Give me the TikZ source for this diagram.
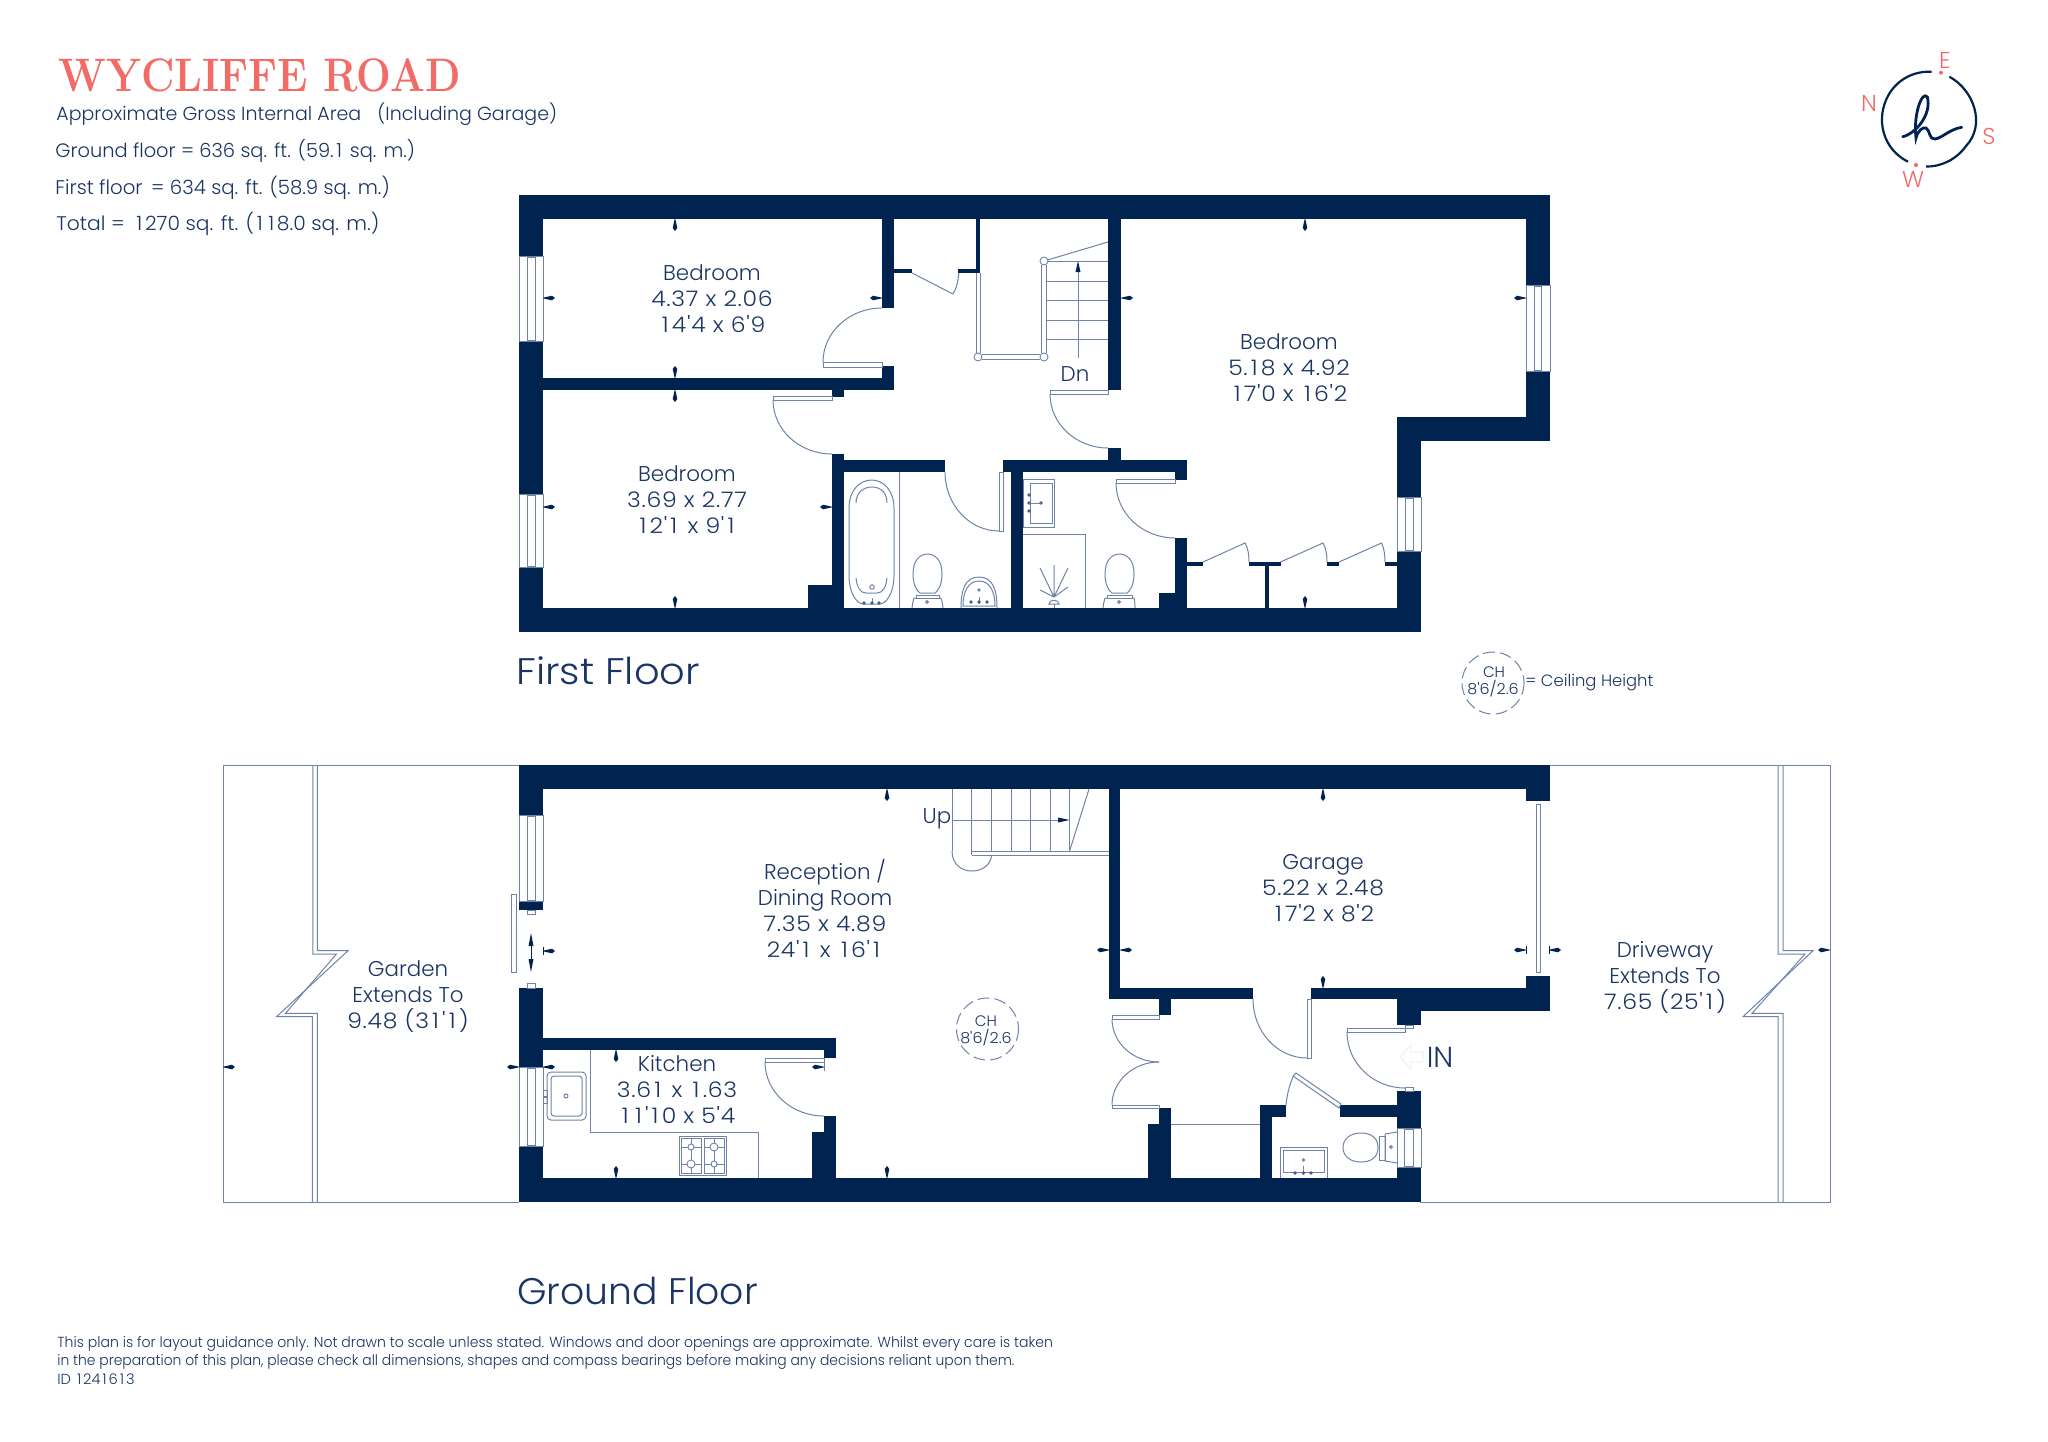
\documentclass[tikz,border=0pt]{standalone}
\usepackage{fontspec}
\usepackage{graphicx}
\usetikzlibrary{calc}
\newfontfamily\pop{Poppins Light}
\definecolor{navy}{HTML}{00234F}
\definecolor{txtc}{HTML}{1A3563}
\definecolor{thinc}{HTML}{6F83A8}
\definecolor{coral}{HTML}{F26B66}
\tikzset{
  wallfill/.style={fill=navy,draw=none},
  thinl/.style={draw=thinc,line width=0.5pt},
  thinw/.style={draw=thinc,line width=0.5pt,fill=white},
  fix/.style={draw=thinc,line width=0.45pt,fill=white},
  tx/.style={text=txtc,font=\pop\fontsize{10.7}{13}\selectfont,align=center,inner sep=0pt},
  hd/.style={text=txtc,font=\pop\fontsize{9.85}{12}\selectfont,anchor=west,inner sep=0pt},
  ftr/.style={text=txtc,font=\pop\fontsize{7.3}{9}\selectfont,anchor=west,inner sep=0pt},
  cp/.style={text=coral,font=\pop\fontsize{11.5}{13}\selectfont,inner sep=0pt},
  chl/.style={draw=thinc,line width=0.5pt,dash pattern=on 6pt off 2.5pt},
  cht/.style={text=txtc,font=\pop\fontsize{7.6}{9}\selectfont,inner sep=0pt}
}
% wide digit one and stretched number lines
\newcommand{\oo}{\makebox[0.56em][c]{1}}
\newcommand{\nf}[1]{\scalebox{1.10}[1]{\addfontfeature{LetterSpace=3}#1}}
\newcommand{\wl}[4]{\fill[wallfill] (#1,#2) rectangle (#3,#4);}
\newcommand{\vwin}[6]{\draw[thinw] (#1,#3) rectangle (#2,#4);\draw[thinl] (#5,#3+1) rectangle (#6,#4-1);}
\newcommand{\qarc}[3]{\draw[thinl] (#1) .. controls ($(#1)!0.552!(#3)$) and ($(#2)!0.552!(#3)$) .. (#2);}
\newcommand{\tick}[3]{\fill[navy,shift={(#1,#2)},rotate=#3] (0,.3)--(9,2.3)--(12,0)--(9,-2.3)--(0,-.3)--cycle;}
\newcommand{\tL}[2]{\tick{#1}{#2}{0}}
\newcommand{\tR}[2]{\tick{#1}{#2}{180}}
\newcommand{\tU}[2]{\tick{#1}{#2}{-90}}
\newcommand{\tD}[2]{\tick{#1}{#2}{90}}
\newcommand{\dt}[2]{\fill[thinc!60!navy] (#1,#2) circle (1.8);}
\begin{document}
\begin{tikzpicture}[x=0.5pt,y=-0.5pt]
\useasboundingbox (0,0) rectangle (2048,1441);
\fill[white] (0,0) rectangle (2048,1441);

% ---------- header ----------
\node[anchor=west,inner sep=0pt,text=coral,font=\rmfamily\bfseries\fontsize{23.5}{26}\selectfont\addfontfeature{FakeBold=0.8}] (title) at (58,75) {\scalebox{0.875}[1]{WYCLIFFE ROAD}};
\node[hd,font=\pop\fontsize{9.5}{12}\selectfont] (h1) at (56,114) {Approximate Gross Internal Area\hspace{0.85em}(Including Garage)};
\node[hd,font=\pop\fontsize{9.7}{12}\selectfont] (h2) at (55,151) {Ground floor = 636 sq. ft. (59.\oo\ sq. m.)};
\node[hd] (h3) at (55,188) {First floor\, = 634 sq. ft. (58.9 sq. m.)};
\node[hd] (h4) at (56,224) {\scalebox{1.03}[1]{Total =\, \oo270 sq. ft. (\oo\oo8.0 sq. m.)}};

% ---------- compass ----------
\draw[navy,line width=1.1pt] (1949.3,76.7) .. controls (1974,90) and (1986,125) .. (1966,146) .. controls (1956,160) and (1940,167) .. (1926,166.5);
\draw[navy,line width=1.1pt] (1908,161.7) .. controls (1884,150) and (1874,120) .. (1889,94) .. controls (1899,78) and (1915,71) .. (1931.7,71.7);
\draw[navy,line width=1.4pt,line cap=round] (1902.7,136.7) .. controls (1915,134) and (1932,115) .. (1927.3,97) .. controls (1922,90) and (1913,115) .. (1916,138) .. controls (1918,130) and (1923,127) .. (1926,128) .. controls (1930,130) and (1929,140) .. (1935,139) .. controls (1942,138) and (1950,129) .. (1961.7,127.3);
\fill[coral] (1941,72.7) circle (2);
\fill[coral] (1916,165) circle (2);
\node[cp] (cE) at (1945,60) {E};
\node[cp] (cN) at (1869,103) {N};
\node[cp] (cS) at (1989,136) {S};
\node[cp] (cW) at (1913,179) {W};

% ========== FIRST FLOOR ==========
\wl{519}{195}{1550}{219}
\wl{519}{195}{543}{632}
\wl{519}{608}{1421}{632}
\wl{1526}{195}{1550}{441}
\wl{1397}{417}{1550}{441}
\wl{1397}{417}{1421}{632}
% interior walls
\wl{882}{219}{894}{308}
\wl{882}{366}{894}{390}
\wl{543}{378}{894}{390}
\wl{832}{390}{844}{397}
\wl{832}{454}{844}{608}
\wl{832}{460}{945}{472}
\wl{1003}{460}{1187}{472}
\wl{1175}{472}{1187}{480}
\wl{1011}{472}{1023}{608}
\wl{808}{585}{844}{608}
\wl{1108}{219}{1121}{390}
\wl{1108}{448}{1121}{460}
\wl{1175}{538}{1187}{608}
\wl{1159}{593}{1175}{608}
\wl{1265}{562}{1269}{608}
\wl{1187}{562}{1203}{566}
\wl{1249}{562}{1280.5}{566}
\wl{1327}{562}{1339}{566}
\wl{1385}{562}{1397}{566}
\wl{976}{219}{980}{273}
\wl{894}{269}{912}{273}
\wl{958}{269}{976}{273}
% windows
\vwin{519}{543}{256}{341}{527}{535}
\vwin{519}{543}{494}{567}{527}{535}
\vwin{1526}{1550}{285}{371}{1534}{1541.5}
\vwin{1397}{1421}{497}{551}{1405}{1413}
% doors
\draw[thinw] (823,362) rectangle (882,367);
\qarc{823,362}{882,308}{823,308}
\draw[thinw] (773,396) rectangle (832,400);
\qarc{773,400}{832,454}{773,454}
\draw[thinw] (999,472) rectangle (1003,531);
\qarc{945,472}{999,531}{945,531}
\draw[thinw] (1050,390) rectangle (1108,394);
\qarc{1050,394}{1108,448}{1050,448}
\draw[thinw] (1116,479) rectangle (1175,483);
\qarc{1116,483}{1175,538}{1116,538}
% cupboard door
\draw[thinl] (912,273) -- (953,294);
\draw[thinl] (953,294) .. controls (957,288) and (958,280) .. (959,273);
% wardrobes
\draw[thinl] (1203,562) -- (1245,543) .. controls (1248,548) and (1249,555) .. (1249,562);
\draw[thinl] (1280.5,562) -- (1323,543) .. controls (1326,548) and (1327,555) .. (1327,562);
\draw[thinl] (1339,562) -- (1381.5,543) .. controls (1384,548) and (1385,555) .. (1385,562);
% stairs
\draw[thinl] (976,273) -- (976,355) (980,273) -- (980,353);
\draw[thinl] (982,354.5) -- (1040,354.5) (982,359) -- (1040,359);
\draw[thinl] (1041.5,265) -- (1041.5,353) (1046.5,265) -- (1046.5,353);
\foreach \y in {261,281,300,320,339} {\draw[thinl] (1047,\y) -- (1108,\y);}
\draw[thinl] (1044,261) -- (1108,242);
\draw[fix] (978,357) circle (4);
\draw[fix] (1044,357) circle (4);
\draw[fix] (1044,261) circle (4);
\draw[thinl] (1078,358) -- (1078,268);
\fill[navy] (1078,261) -- (1080.5,272) -- (1075.5,272) -- cycle;
% bath
\draw[thinl] (899,472) -- (899,608);
\draw[thinl] (849,508) .. controls (849,490) and (860,480) .. (871.5,480) .. controls (883,480) and (894,490) .. (894,508) -- (894,575) .. controls (894,595) and (885,604) .. (880,604) -- (863,604) .. controls (858,604) and (849,595) .. (849,575) -- cycle;
\draw[thinl] (856,503) .. controls (856,493) and (863,487) .. (872,487) .. controls (881,487) and (887,493) .. (887,503);
\draw[thinl] (856,578) .. controls (857,587) and (860,593) .. (866,593) -- (877,593) .. controls (883,593) and (886,587) .. (887,578);
\draw[thinl] (872,587) circle (2.2);
\draw[thinl] (872,598) -- (872,604);
\dt{864}{603}\dt{872}{603}\dt{879}{603}
% bathroom toilet
\draw[thinl] (913,574) .. controls (913,560) and (920,554) .. (927.5,554) .. controls (935,554) and (942,560) .. (942,574) .. controls (942,585) and (938,591) .. (935,593) -- (920,593) .. controls (917,591) and (913,585) .. (913,574) -- cycle;
\draw[thinl] (916,595) rectangle (939,598);
\draw[thinl] (914,598) .. controls (913,602) and (912,605) .. (912,608) (941,598) .. controls (942,602) and (943,605) .. (943,608) (916,598) -- (914,598) (939,598) -- (941,598);
\draw[thinl] (927,602) circle (1.4);
% bathroom sink
\draw[thinl] (961,608) .. controls (961,590) and (965,577) .. (979,577) .. controls (993,577) and (997,590) .. (997,608);
\draw[thinl] (963,606) .. controls (963,592) and (968,581) .. (979,581) .. controls (990,581) and (995,592) .. (995,606) -- cycle;
\draw[thinl] (979,590) circle (1.2);
\draw[thinl] (979,597) -- (979,604);
\dt{971}{602}\dt{979}{602}\dt{987}{602}
% ensuite sink
\draw[thinl] (1023,479) rectangle (1054,527);
\draw[thinl] (1030,483) rectangle (1052,523);
\dt{1029}{495}\dt{1029}{503}\dt{1029}{511}\dt{1041}{503}
\draw[thinl] (1029,503) -- (1041,503);
% shower
\draw[thinl] (1023,534) -- (1085,534) -- (1085,608);
\draw[thinl] (1054,597) -- (1040,568) (1054,597) -- (1054,565) (1054,597) -- (1068,568) (1054,597) -- (1040,590) (1054,597) -- (1068,587);
\draw[thinl] (1049,604) .. controls (1049,599) and (1059,599) .. (1059,604) -- cycle;
\draw[thinl] (1054,604) -- (1054,608);
% ensuite toilet
\draw[thinl] (1105,574) .. controls (1105,560) and (1112,554) .. (1119.5,554) .. controls (1127,554) and (1134,560) .. (1134,574) .. controls (1134,585) and (1130,591) .. (1127,593) -- (1112,593) .. controls (1109,591) and (1105,585) .. (1105,574) -- cycle;
\draw[thinl] (1107,595) rectangle (1132,598);
\draw[thinl] (1105,598) .. controls (1104,602) and (1103,605) .. (1103,608) (1134,598) .. controls (1135,602) and (1135,605) .. (1135,608) (1107,598) -- (1105,598) (1132,598) -- (1134,598);
\draw[thinl] (1119,602) circle (1.4);
% ticks first floor
\tU{675}{219}\tL{543}{298}\tR{882}{298}\tD{675}{378}\tU{675}{390}\tL{543}{507}\tR{832}{507}\tD{675}{608}
\tU{1305}{219}\tL{1121}{298}\tR{1526}{298}\tD{1305}{608}
% labels first floor
\node[tx] (bed1) at (712,299) {Bedroom\\\nf{4.37 x 2.06}\\\nf{\oo4'4 x 6'9}};
\node[tx] (bed2) at (687,500) {Bedroom\\\nf{3.69 x 2.77}\\\nf{\oo2'\oo\ x 9'\oo}};
\node[tx] (bed3) at (1289,368) {Bedroom\\\nf{5.\oo8 x 4.92}\\\nf{\oo7'0 x \oo6'2}};
\node[tx] (dn) at (1075,374) {Dn};
\node[anchor=west,inner sep=0pt,text=txtc,font=\pop\fontsize{18.5}{22}\selectfont] (ff) at (516,671) {\scalebox{1.08}[1]{First Floor}};
% legend
\draw[chl] (1493,683) circle (31);
\node[cht] (ch1) at (1494,672) {CH};
\node[cht] (ch2) at (1493,689) {\scalebox{1.05}[1]{8'6/2.6}};
\node[anchor=west,inner sep=0pt,text=txtc,font=\pop\fontsize{8.2}{10}\selectfont] (ceil) at (1525,682.5) {= Ceiling Height};

% ========== GROUND FLOOR ==========
\draw[thinl] (519,765) -- (223,765) -- (223,1202) -- (519,1202);
\draw[thinl] (1550,765) -- (1830,765) -- (1830,1202) -- (1420,1202);
% garden zigzag
\draw[thinl] (312.9,765) -- (312.9,954) -- (336.5,954) -- (285.5,1013.3) -- (317.3,1013.3) -- (317.3,1202);
\draw[thinl] (317.3,765) -- (317.3,950.7) -- (348,950.7) -- (276.5,1016.7) -- (312.4,1016.7) -- (312.4,1202);
% driveway zigzag
\draw[thinl] (1778,765) -- (1778,954) -- (1805,954) -- (1752,1013.3) -- (1783,1013.3) -- (1783,1202);
\draw[thinl] (1783,765) -- (1783,950.7) -- (1813,950.7) -- (1743,1016.7) -- (1778,1016.7) -- (1778,1202);
% outer walls
\wl{519}{765}{1550}{789}
\wl{1526}{789}{1550}{801}
\wl{519}{1178}{1421}{1202}
\wl{519}{765}{543}{815}
\wl{519}{901}{543}{910}
\wl{519}{988}{543}{1067}
\wl{519}{1146}{543}{1202}
\draw[thinw] (527.5,910) rectangle (535,914);
\draw[thinw] (527.5,983) rectangle (535,988);
\vwin{519}{543}{815}{901}{527.5}{535}
\vwin{519}{543}{1067}{1146}{527.5}{535}
% kitchen walls
\wl{543}{1038}{836}{1050}
\wl{824}{1050}{836}{1058}
\wl{824}{1116}{836}{1178}
\wl{812}{1132}{836}{1178}
% garage walls
\wl{1109}{789}{1120}{999}
\wl{1109}{988}{1253}{999}
\wl{1311}{988}{1550}{999}
\wl{1526}{976}{1550}{1011}
\wl{1397}{999}{1550}{1011}
\wl{1397}{999}{1421}{1025}
\wl{1159}{999}{1171}{1015}
\wl{1159}{1108}{1171}{1178}
\wl{1147.5}{1124}{1171}{1178}
\wl{1260}{1105}{1272}{1178}
\wl{1260}{1105}{1286}{1117}
\wl{1340}{1105}{1397}{1117}
\wl{1397}{1091}{1421}{1128}
\wl{1397}{1167}{1421}{1178}
\vwin{1397}{1421}{1128}{1167}{1404}{1413}
% sliding doors
\draw[thinw] (511,894) rectangle (516,972);
\draw[thinw] (1536,804) rectangle (1540,972);
\draw[navy,line width=.4pt] (531,940) -- (531,965);
\fill[navy] (531,933) -- (533.5,946) -- (528.5,946) -- cycle;
\fill[navy] (531,972) -- (533.5,959) -- (528.5,959) -- cycle;
% doors
\draw[thinw] (765,1058) rectangle (824,1062);
\qarc{765,1062}{824,1116}{765,1116}
\draw[thinl] (824,1062) -- (824,1071);
\draw[thinw] (1112,1015) rectangle (1159,1019);
\qarc{1112,1019}{1159,1062}{1112,1062}
\draw[thinw] (1112,1105) rectangle (1159,1108);
\qarc{1112,1105}{1159,1062}{1112,1062}
\draw[thinw] (1307,999) rectangle (1311,1058);
\qarc{1253,999}{1307,1058}{1253,1058}
\draw[thinw] (1347,1028) rectangle (1405,1032);
\qarc{1347,1032}{1405,1088}{1347,1088}
\draw[thinl] (1405,1025) rectangle (1413,1028);
\draw[thinl] (1405,1087) rectangle (1413,1091);
\draw[thinw] (1293,1076) -- (1296,1073) -- (1341,1104) -- (1339,1108) -- cycle;
\draw[thinl] (1286,1105) .. controls (1287,1095) and (1289,1086) .. (1293,1077);
\draw[thinl] (1171,1124) -- (1260,1124);
% stairs
\foreach \x in {952,971.6,991.6,1011,1030,1050,1069.6} {\draw[thinl] (\x,789) -- (\x,851);}
\draw[thinl] (1089,789) -- (1069.6,851);
\draw[thinl] (971.6,851) -- (1109,851) (971.6,855) -- (1109,855);
\draw[thinl] (971.6,851) -- (971.6,855);
\draw[thinl] (952,851) .. controls (952,864) and (961,871) .. (972,871) .. controls (983,871) and (991,864) .. (991.6,855);
\draw[thinl] (952,820) -- (1060,820);
\fill[navy] (1069.6,820) -- (1058,817.5) -- (1058,822.5) -- cycle;
% kitchen
\draw[thinl] (590,1050) -- (590,1132) -- (758,1132) -- (758,1178);
\draw[thinl,rounded corners=2pt] (547,1072) rectangle (586,1120);
\draw[thinl,rounded corners=1.5pt] (551,1076) rectangle (582,1116);
\draw[thinl] (566,1096) circle (2);
\draw[thinl] (543,1090) rectangle (547,1096);
\draw[thinl] (543,1097) rectangle (547,1103);
\draw[thinl] (679,1136) rectangle (726,1175);
\draw[thinl] (681,1138) rectangle (701,1173);
\draw[thinl] (704,1138) rectangle (724,1173);
\draw[thinl] (681,1147) -- (701,1147) (691,1138) -- (691,1173) (681,1164) -- (701,1164);
\draw[thinl] (704,1147) -- (724,1147) (714,1138) -- (714,1173) (704,1164) -- (724,1164);
\draw[fix] (691,1147) circle (3);
\draw[fix] (714,1147) circle (4);
\draw[fix] (691,1164) circle (4);
\draw[fix] (714,1164) circle (3);
% WC basin
\draw[thinl] (1280,1178) -- (1280,1147) -- (1327,1147) -- (1327,1178);
\draw[thinl] (1283,1150) -- (1324,1150) -- (1324,1172) -- (1283,1172) -- cycle;
\draw[thinl] (1303.5,1160) circle (1.2);
\draw[thinl] (1303.5,1166) -- (1303.5,1175);
\dt{1295}{1173}\dt{1303.5}{1173}\dt{1311}{1173}
% WC toilet
\draw[thinl] (1378,1147.5) .. controls (1378,1137) and (1370,1133) .. (1361,1133) .. controls (1350,1133) and (1343,1139) .. (1343,1147.5) .. controls (1343,1156) and (1350,1162) .. (1361,1162) .. controls (1370,1162) and (1378,1158) .. (1378,1147.5) -- cycle;
\draw[thinl] (1379,1136) rectangle (1385,1160);
\draw[thinl] (1385,1134) -- (1397,1132) (1385,1161) -- (1397,1163) (1385,1134) -- (1385,1161);
\draw[thinl] (1391,1147) circle (1.4);
% IN arrow
\draw[txtc!6,line width=0.7pt] (1400,1057) -- (1411,1045) -- (1411,1052) -- (1423,1052) -- (1423,1062) -- (1411,1062) -- (1411,1069) -- cycle;
% ticks ground floor
\tU{887}{789}\tD{887}{1178}\tR{1109}{950}\tL{1120}{950}\tU{1323}{789}\tD{1323}{988}
\tR{1526}{950}\tL{1549}{950}\tR{1830}{950}\tL{543}{951}
\tL{223}{1067}\tR{519}{1067}\tL{543}{1067}\tR{824}{1067}\tU{616}{1050}\tD{616}{1178}
\draw[navy,line width=.4pt] (543,947) -- (543,955) (1526,946) -- (1526,954) (1549,946) -- (1549,954);
% labels ground floor
\node[tx] (rec) at (825,908) {Reception /\\Dining Room\\\nf{7.35 x 4.89}\\\nf{24'\oo\ x \oo6'\oo}};
\node[tx] (kit) at (677,1089) {Kitchen\\\nf{3.6\oo\ x \oo.63}\\\nf{\oo\oo'\oo0 x 5'4}};
\node[tx] (gar) at (1323,888) {Garage\\\nf{5.22 x 2.48}\\\nf{\oo7'2 x 8'2}};
\node[tx] (gdn) at (408,997) {Garden\\Extends To\\\nf{9.48 (3\oo'\oo)}};
\node[tx] (drv) at (1665,977) {Driveway\\Extends To\\\nf{7.65 (25'\oo)}};
\node[tx] (up) at (937,819) {Up};
\node[anchor=center,inner sep=0pt,text=txtc,font=\pop\fontsize{14.5}{16}\selectfont] (inl) at (1440,1057) {IN};
\draw[chl] (987.5,1029) circle (31);
\node[cht] (ch3) at (986,1021) {CH};
\node[cht] (ch4) at (986,1038) {\scalebox{1.05}[1]{8'6/2.6}};
\node[anchor=west,inner sep=0pt,text=txtc,font=\pop\fontsize{18.5}{22}\selectfont] (gf) at (517,1291) {\scalebox{1.02}[1]{Ground Floor}};
% footer
\node[ftr] (f1) at (57,1344) {\scalebox{.963}[1]{This plan is for layout guidance only. Not drawn to scale unless stated. Windows and door openings are approximate. Whilst every care is taken}};
\node[ftr] (f2) at (57,1362) {\scalebox{.952}[1]{in the preparation of this plan, please check all dimensions, shapes and compass bearings before making any decisions reliant upon them.}};
\node[ftr] (f3) at (57,1379) {ID \oo24\oo6\oo3};
\end{tikzpicture}
\end{document}
